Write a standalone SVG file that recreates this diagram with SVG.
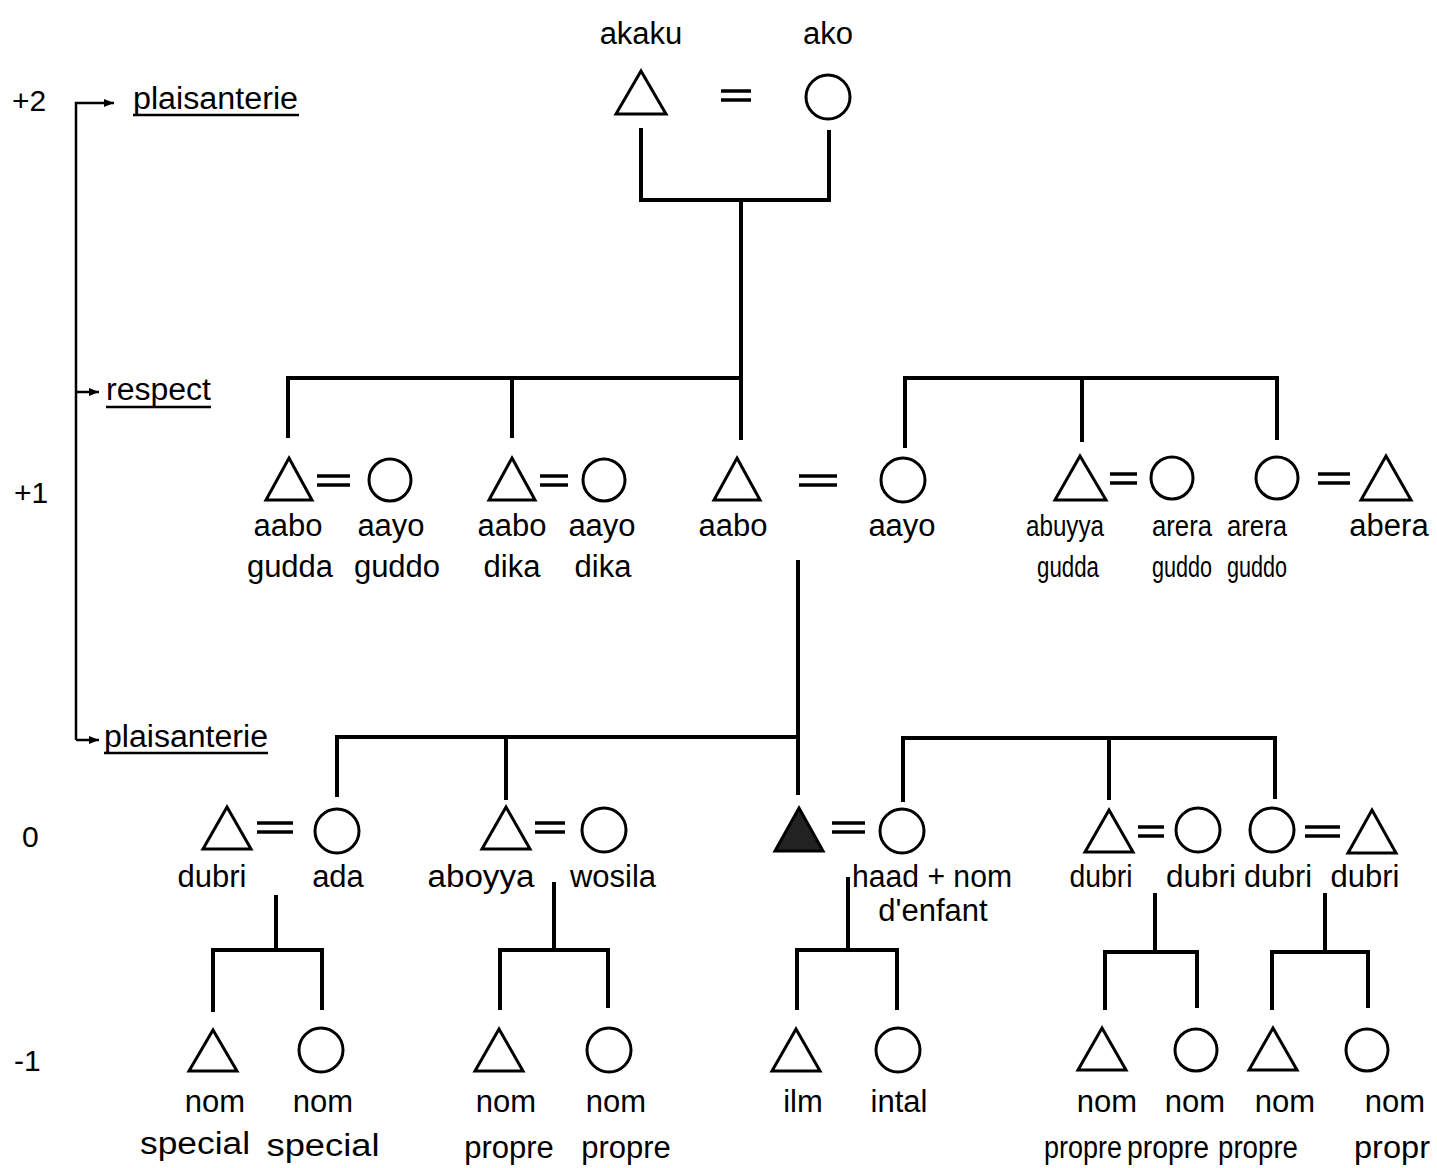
<svg xmlns="http://www.w3.org/2000/svg" width="1437" height="1168" viewBox="0 0 1437 1168">
<style>
text{font-family:"Liberation Sans",Arial,sans-serif;font-size:31px;fill:#000;text-anchor:middle}
.gen{text-anchor:start;font-size:30px}
.lab{text-anchor:start;font-size:31px}
.nar{font-size:29px}
.sym{fill:none;stroke:#000;stroke-width:3}
.fill{fill:#222;stroke:#000;stroke-width:3}
.eq{stroke:#000;stroke-width:3.5}
.ln{fill:none;stroke:#000;stroke-width:4;stroke-linejoin:miter}
.thin{fill:none;stroke:#000;stroke-width:2.5}
.ul{stroke:#000;stroke-width:2.5}
</style>
<defs>
<marker id="ah" viewBox="0 0 10 10" refX="10" refY="5" markerWidth="6" markerHeight="4" orient="auto" markerUnits="strokeWidth">
<path d="M0,1 L10,5 L0,9 z" fill="#000"/>
</marker>
</defs>
<rect width="1437" height="1168" fill="#fff"/>

<g id="legend">
<text class="gen" x="12" y="111">+2</text>
<text class="gen" x="14" y="503">+1</text>
<text class="gen" x="22" y="847">0</text>
<text class="gen" x="14" y="1071">-1</text>
<path class="thin" d="M76,740 L76,103 L114,103" marker-end="url(#ah)"/>
<path class="thin" d="M76,392 L99,392" marker-end="url(#ah)"/>
<path class="thin" d="M76,740 L99,740" marker-end="url(#ah)"/>
<text class="lab" x="133" y="109" textLength="165" lengthAdjust="spacingAndGlyphs">plaisanterie</text>
<line class="ul" x1="133" y1="115" x2="299" y2="115"/>
<text class="lab" x="106" y="400" textLength="105" lengthAdjust="spacingAndGlyphs">respect</text>
<line class="ul" x1="106" y1="407" x2="211" y2="407"/>
<text class="lab" x="104" y="747" textLength="164" lengthAdjust="spacingAndGlyphs">plaisanterie</text>
<line class="ul" x1="104" y1="753" x2="268" y2="753"/>
</g>

<g id="connectors">
<path class="ln" d="M641,128 L641,200 L829,200 L829,130"/>
<path class="ln" d="M741,200 L741,440"/>
<path class="ln" d="M288,438 L288,378 L741,378"/>
<path class="ln" d="M512,378 L512,438"/>
<path class="ln" d="M905,448 L905,378 L1277,378 L1277,440"/>
<path class="ln" d="M1082,378 L1082,442"/>
<path class="ln" d="M798,560 L798,795"/>
<path class="ln" d="M337,797 L337,737 L798,737"/>
<path class="ln" d="M506,737 L506,800"/>
<path class="ln" d="M903,802 L903,738 L1275,738 L1275,799"/>
<path class="ln" d="M1109,738 L1109,800"/>
<path class="ln" d="M276,895 L276,950"/>
<path class="ln" d="M213,1012 L213,950 L322,950 L322,1010"/>
<path class="ln" d="M554,882 L554,950"/>
<path class="ln" d="M500,1010 L500,950 L608,950 L608,1008"/>
<path class="ln" d="M848,877 L848,950"/>
<path class="ln" d="M797,1010 L797,950 L897,950 L897,1010"/>
<path class="ln" d="M1155,893 L1155,952"/>
<path class="ln" d="M1105,1010 L1105,952 L1197,952 L1197,1008"/>
<path class="ln" d="M1325,893 L1325,952"/>
<path class="ln" d="M1272,1010 L1272,952 L1368,952 L1368,1008"/>
</g>

<g id="n-akaku"><path class="sym" d="M641,71 L666,114 L616,114 Z"/><text x="641" y="44">akaku</text></g>
<g id="m-top"><line class="eq" x1="721" y1="91" x2="751" y2="91"/><line class="eq" x1="721" y1="100" x2="751" y2="100"/></g>
<g id="n-ako"><circle class="sym" cx="828" cy="97" r="22"/><text x="828" y="44">ako</text></g>

<g id="n-aabo-gudda"><path class="sym" d="M289,458 L312,500 L266,500 Z"/><text x="288" y="536">aabo</text><text x="290" y="577">gudda</text></g>
<g id="m1"><line class="eq" x1="317" y1="476" x2="350" y2="476"/><line class="eq" x1="317" y1="485" x2="350" y2="485"/></g>
<g id="n-aayo-guddo"><circle class="sym" cx="390" cy="480" r="21"/><text x="391" y="536">aayo</text><text x="397" y="577">guddo</text></g>
<g id="n-aabo-dika"><path class="sym" d="M512,458 L535,500 L489,500 Z"/><text x="512" y="536">aabo</text><text x="512" y="577">dika</text></g>
<g id="m2"><line class="eq" x1="540" y1="476" x2="568" y2="476"/><line class="eq" x1="540" y1="485" x2="568" y2="485"/></g>
<g id="n-aayo-dika"><circle class="sym" cx="604" cy="480" r="21"/><text x="602" y="536">aayo</text><text x="603" y="577">dika</text></g>
<g id="n-aabo"><path class="sym" d="M737,458 L760,500 L714,500 Z"/><text x="733" y="536">aabo</text></g>
<g id="m3"><line class="eq" x1="799" y1="476" x2="837" y2="476"/><line class="eq" x1="799" y1="485" x2="837" y2="485"/></g>
<g id="n-aayo"><circle class="sym" cx="903" cy="480" r="22"/><text x="902" y="536">aayo</text></g>
<g id="n-abuyya-gudda"><path class="sym" d="M1080,456 L1106,500 L1055,500 Z"/><text class="nar" x="1065" y="536" textLength="78" lengthAdjust="spacingAndGlyphs">abuyya</text><text class="nar" x="1068" y="577" textLength="62" lengthAdjust="spacingAndGlyphs">gudda</text></g>
<g id="m4"><line class="eq" x1="1110" y1="474" x2="1137" y2="474"/><line class="eq" x1="1110" y1="483" x2="1137" y2="483"/></g>
<g id="n-arera-guddo-1"><circle class="sym" cx="1172" cy="478" r="21"/><text class="nar" x="1182" y="536" textLength="60" lengthAdjust="spacingAndGlyphs">arera</text><text class="nar" x="1182" y="577" textLength="60" lengthAdjust="spacingAndGlyphs">guddo</text></g>
<g id="n-arera-guddo-2"><circle class="sym" cx="1277" cy="478" r="21"/><text class="nar" x="1257" y="536" textLength="60" lengthAdjust="spacingAndGlyphs">arera</text><text class="nar" x="1257" y="577" textLength="60" lengthAdjust="spacingAndGlyphs">guddo</text></g>
<g id="m5"><line class="eq" x1="1318" y1="474" x2="1350" y2="474"/><line class="eq" x1="1318" y1="483" x2="1350" y2="483"/></g>
<g id="n-abera"><path class="sym" d="M1386,456 L1411,500 L1361,500 Z"/><text x="1389" y="536">abera</text></g>

<g id="n-dubri-1"><path class="sym" d="M227,807 L251,849 L203,849 Z"/><text x="212" y="887">dubri</text></g>
<g id="m6"><line class="eq" x1="257" y1="823" x2="293" y2="823"/><line class="eq" x1="257" y1="832" x2="293" y2="832"/></g>
<g id="n-ada"><circle class="sym" cx="337" cy="831" r="22"/><text x="338" y="887">ada</text></g>
<g id="n-aboyya"><path class="sym" d="M506,807 L530,849 L482,849 Z"/><text x="481" y="887" textLength="107" lengthAdjust="spacingAndGlyphs">aboyya</text></g>
<g id="m7"><line class="eq" x1="535" y1="823" x2="565" y2="823"/><line class="eq" x1="535" y1="832" x2="565" y2="832"/></g>
<g id="n-wosila"><circle class="sym" cx="604" cy="830" r="22"/><text x="613" y="887">wosila</text></g>
<g id="n-ego"><path class="fill" d="M799,808 L823,851 L775,851 Z"/></g>
<g id="m8"><line class="eq" x1="832" y1="823" x2="865" y2="823"/><line class="eq" x1="832" y1="832" x2="865" y2="832"/></g>
<g id="n-haad"><circle class="sym" cx="902" cy="831" r="22"/><text x="932" y="887" textLength="160" lengthAdjust="spacingAndGlyphs">haad + nom</text><text x="933" y="921">d'enfant</text></g>
<g id="n-dubri-2"><path class="sym" d="M1109,810 L1133,852 L1085,852 Z"/><text x="1101" y="887" textLength="63" lengthAdjust="spacingAndGlyphs">dubri</text></g>
<g id="m9"><line class="eq" x1="1138" y1="827" x2="1164" y2="827"/><line class="eq" x1="1138" y1="836" x2="1164" y2="836"/></g>
<g id="n-dubri-3"><circle class="sym" cx="1198" cy="830" r="22"/><text x="1201" y="887" textLength="70" lengthAdjust="spacingAndGlyphs">dubri</text></g>
<g id="n-dubri-4"><circle class="sym" cx="1272" cy="830" r="22"/><text x="1278" y="887" textLength="68" lengthAdjust="spacingAndGlyphs">dubri</text></g>
<g id="m10"><line class="eq" x1="1305" y1="827" x2="1340" y2="827"/><line class="eq" x1="1305" y1="836" x2="1340" y2="836"/></g>
<g id="n-dubri-5"><path class="sym" d="M1372,810 L1396,853 L1348,853 Z"/><text x="1365" y="887">dubri</text></g>

<g id="n-c1"><path class="sym" d="M213,1030 L237,1071 L189,1071 Z"/><text x="215" y="1112">nom</text><text x="195" y="1154" textLength="110" lengthAdjust="spacingAndGlyphs">special</text></g>
<g id="n-c2"><circle class="sym" cx="321" cy="1050" r="22"/><text x="323" y="1112">nom</text><text x="323" y="1156" textLength="113" lengthAdjust="spacingAndGlyphs">special</text></g>
<g id="n-c3"><path class="sym" d="M499,1029 L523,1071 L475,1071 Z"/><text x="506" y="1112">nom</text><text x="509" y="1158">propre</text></g>
<g id="n-c4"><circle class="sym" cx="609" cy="1050" r="22"/><text x="616" y="1112">nom</text><text x="626" y="1158">propre</text></g>
<g id="n-ilm"><path class="sym" d="M796,1029 L820,1071 L772,1071 Z"/><text x="803" y="1112">ilm</text></g>
<g id="n-intal"><circle class="sym" cx="898" cy="1050" r="22"/><text x="899" y="1112">intal</text></g>
<g id="n-c5"><path class="sym" d="M1102,1028 L1126,1070 L1078,1070 Z"/><text x="1107" y="1112">nom</text><text x="1083" y="1158" textLength="78" lengthAdjust="spacingAndGlyphs">propre</text></g>
<g id="n-c6"><circle class="sym" cx="1196" cy="1050" r="21"/><text x="1195" y="1112">nom</text><text x="1168" y="1158" textLength="82" lengthAdjust="spacingAndGlyphs">propre</text></g>
<g id="n-c7"><path class="sym" d="M1273,1028 L1297,1070 L1249,1070 Z"/><text x="1285" y="1112">nom</text><text x="1258" y="1158" textLength="80" lengthAdjust="spacingAndGlyphs">propre</text></g>
<g id="n-c8"><circle class="sym" cx="1367" cy="1050" r="21"/><text x="1395" y="1112">nom</text><text x="1392" y="1158" textLength="76" lengthAdjust="spacingAndGlyphs">propr</text></g>
</svg>
